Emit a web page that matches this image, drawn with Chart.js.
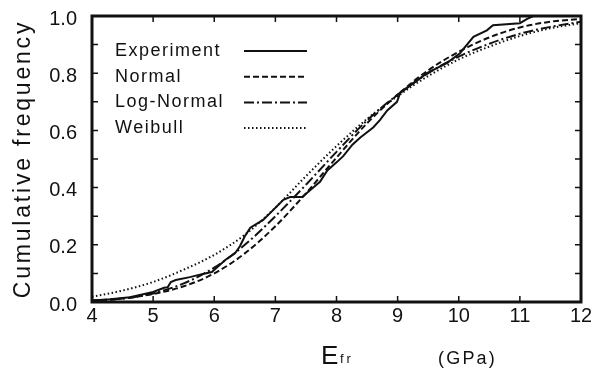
<!DOCTYPE html>
<html>
<head>
<meta charset="utf-8">
<script src="https://cdn.jsdelivr.net/npm/chart.js@4.4.1/dist/chart.umd.min.js"></script>
<style>
  body { margin: 0; background: #fff; }
  canvas { display: block; }
</style>
</head>
<body>
<canvas id="cdf-chart" width="591" height="371"></canvas>
<script>
// values
const fitE = [4, 4.5, 5, 5.5, 6, 6.5, 7, 7.5, 8, 8.5, 9, 9.5, 10, 10.5, 11, 11.5, 12];
const normalF = [0.005, 0.012, 0.028, 0.055, 0.10, 0.17, 0.265, 0.38, 0.505, 0.625, 0.725, 0.81, 0.875, 0.925, 0.96, 0.98, 0.99];
const logNormalF = [0.004, 0.012, 0.03, 0.065, 0.12, 0.2, 0.3, 0.41, 0.525, 0.635, 0.725, 0.80, 0.858, 0.903, 0.938, 0.962, 0.98];
const weibullF = [0.018, 0.04, 0.07, 0.113, 0.165, 0.235, 0.33, 0.44, 0.545, 0.64, 0.72, 0.79, 0.848, 0.893, 0.93, 0.957, 0.975];

const expE = [4.0, 4.3, 4.62, 5.0, 5.18, 5.24, 5.29, 5.37, 5.6, 5.85, 5.96, 6.18, 6.34, 6.42, 6.5, 6.59, 6.8, 6.91, 7.13, 7.24, 7.44, 7.62, 7.73, 7.85, 8.01, 8.11, 8.26, 8.39, 8.6, 8.71, 8.83, 8.99, 9.04, 9.48, 9.81, 10.02, 10.24, 10.46, 10.56, 11.0, 11.12, 11.22, 12.0];
const expF = [0.005, 0.01, 0.017, 0.035, 0.05, 0.052, 0.07, 0.077, 0.087, 0.10, 0.105, 0.147, 0.17, 0.195, 0.23, 0.26, 0.287, 0.31, 0.357, 0.367, 0.367, 0.40, 0.42, 0.46, 0.49, 0.51, 0.55, 0.575, 0.61, 0.636, 0.67, 0.70, 0.73, 0.80, 0.836, 0.87, 0.927, 0.95, 0.968, 0.975, 0.99, 1.0, 1.0];

const seriesNames = ['Experiment', 'Normal', 'Log-Normal', 'Weibull'];
const yTitle = 'Cumulative frequency';

const pts = (xs, ys) => xs.map((x, i) => ({x: x, y: ys[i]}));
const ink = '#111';
const fontFam = '"Liberation Sans", Arial, sans-serif';

// frame, inward ticks, legend and axis titles
const paperLook = {
  id: 'paperLook',
  afterDraw(chart) {
    const ctx = chart.ctx;
    const a = chart.chartArea;
    const xs = chart.scales.x, ys = chart.scales.y;
    ctx.save();
    ctx.strokeStyle = ink;
    ctx.lineWidth = 1.5;
    xs.ticks.forEach(t => {
      const px = xs.getPixelForValue(t.value);
      ctx.beginPath();
      ctx.moveTo(px, a.bottom); ctx.lineTo(px, a.bottom - 6);
      ctx.moveTo(px, a.top); ctx.lineTo(px, a.top + 6);
      ctx.stroke();
    });
    ys.ticks.forEach(t => {
      const py = ys.getPixelForValue(t.value);
      ctx.beginPath();
      ctx.moveTo(a.left, py); ctx.lineTo(a.left + 6, py);
      ctx.moveTo(a.right, py); ctx.lineTo(a.right - 6, py);
      ctx.stroke();
    });
    ctx.lineWidth = 3;
    ctx.strokeRect(a.left, a.top, a.right - a.left, a.bottom - a.top);

    // legend: text first, line sample after
    ctx.fillStyle = ink;
    ctx.font = '18px ' + fontFam;
    ctx.textBaseline = 'middle';
    ctx.letterSpacing = '1.5px';
    chart.data.datasets.forEach((ds, i) => {
      const y = 51 + i * 25.7;
      ctx.fillText(ds.label, 115, y);
      ctx.save();
      ctx.strokeStyle = ds.borderColor;
      ctx.lineWidth = ds.borderWidth;
      ctx.setLineDash(ds.borderDash || []);
      ctx.beginPath();
      ctx.moveTo(244, y); ctx.lineTo(307, y);
      ctx.stroke();
      ctx.restore();
    });

    // y axis title
    ctx.save();
    ctx.translate(24, (a.top + a.bottom) / 2);
    ctx.rotate(-Math.PI / 2);
    ctx.textAlign = 'center';
    ctx.font = '23px ' + fontFam;
    ctx.letterSpacing = '2.8px';
    ctx.fillText(yTitle, 0, 0);
    ctx.restore();

    // x axis title: E with subscript fr, then unit
    ctx.textBaseline = 'alphabetic';
    ctx.textAlign = 'left';
    ctx.letterSpacing = '0px';
    ctx.font = '26px ' + fontFam;
    ctx.fillText('E', 321, 364);
    ctx.font = '13px ' + fontFam;
    ctx.letterSpacing = '3px';
    ctx.fillText('fr', 340, 363);
    ctx.font = '18px ' + fontFam;
    ctx.letterSpacing = '2.2px';
    ctx.fillText('(GPa)', 438, 364);
    ctx.restore();
  }
};

const cdfChart = new Chart(document.getElementById('cdf-chart').getContext('2d'), {
  type: 'line',
  plugins: [paperLook],
  data: {
    datasets: [{
      label: seriesNames[0],
      data: pts(expE, expF),
      borderColor: ink,
      borderWidth: 2,
      tension: 0
    }, {
      label: seriesNames[1],
      data: pts(fitE, normalF),
      borderColor: ink,
      borderWidth: 2,
      borderDash: [6, 3],
      cubicInterpolationMode: 'monotone'
    }, {
      label: seriesNames[2],
      data: pts(fitE, logNormalF),
      borderColor: ink,
      borderWidth: 2,
      borderDash: [10, 3, 2, 3],
      cubicInterpolationMode: 'monotone'
    }, {
      label: seriesNames[3],
      data: pts(fitE, weibullF),
      borderColor: ink,
      borderWidth: 2,
      borderDash: [1.5, 2.5],
      cubicInterpolationMode: 'monotone'
    }]
  },
  options: {
    responsive: false,
    animation: false,
    devicePixelRatio: 1,
    layout: { padding: { top: 16, right: 10, left: 0, bottom: 0 } },
    elements: { point: { radius: 0 } },
    scales: {
      x: {
        type: 'linear',
        min: 4, max: 12,
        afterFit: s => { s.height = 69; s.paddingLeft = 0; s.paddingRight = 0; },
        grid: { display: false, drawTicks: false },
        border: { display: false },
        ticks: {
          stepSize: 1,
          padding: 2,
          color: ink,
          font: { family: fontFam, size: 20 },
          maxRotation: 0
        }
      },
      y: {
        min: 0, max: 1,
        afterFit: s => { s.width = 92; s.paddingTop = 0; s.paddingBottom = 0; },
        grid: { display: false, drawTicks: false },
        border: { display: false },
        ticks: {
          stepSize: 0.1,
          padding: 15,
          labelOffset: 3,
          color: ink,
          font: { family: fontFam, size: 20 },
          callback: v => (Math.round(v * 10) % 2 === 0 ? v.toFixed(1) : '')
        }
      }
    },
    plugins: {
      legend: { display: false },
      tooltip: { enabled: false }
    }
  }
});
</script>
</body>
</html>
